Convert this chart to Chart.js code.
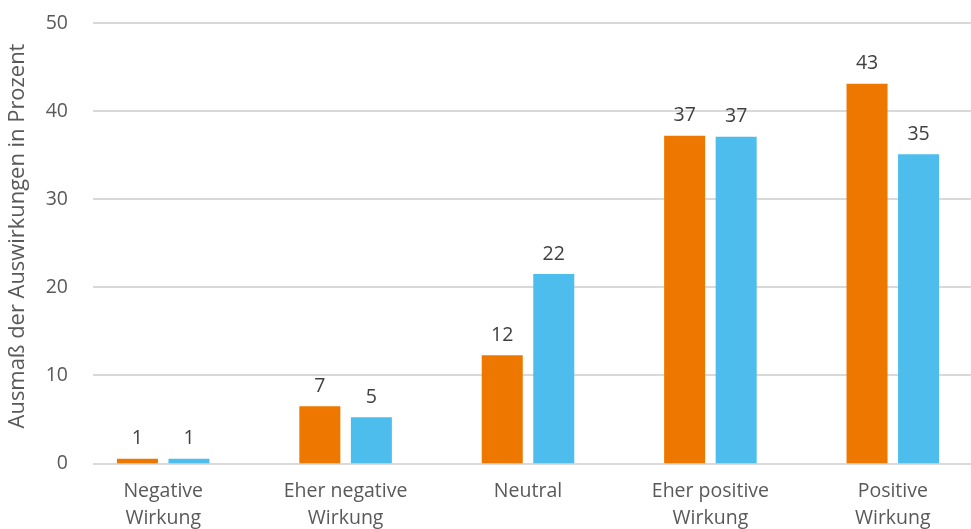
<!DOCTYPE html>
<html><head><meta charset="utf-8">
<script src="https://cdn.jsdelivr.net/npm/chart.js@4/dist/chart.umd.min.js"></script>
<style>html,body{margin:0;padding:0;background:#fff;overflow:hidden;width:971px;height:529px}
#wrap{position:relative;width:990px;height:529px}</style>
</head><body><div id="wrap"><canvas id="c" width="990" height="529"></canvas></div>
<script>
const categories = [["Negative","Wirkung"],["Eher negative","Wirkung"],["Neutral"],["Eher positive","Wirkung"],["Positive","Wirkung"]];
const seriesA = [0.55, 6.5, 12.3, 37.2, 43.1];
const seriesB = [0.55, 5.25, 21.5, 37.1, 35.1];
const yTicks = [0,10,20,30,40,50];
const yTitle = "Ausmaß der Auswirkungen in Prozent";
const FONT = "'Open Sans', sans-serif";
const FS = 19.5;

const gridPlugin = {
  id:'grid',
  beforeDatasetsDraw(chart){
    const ctx=chart.ctx, y=chart.scales.y;
    ctx.save();ctx.strokeStyle='#d9d9d9';ctx.lineWidth=2;
    yTicks.forEach(v=>{const p=Math.round(y.getPixelForValue(v));ctx.beginPath();ctx.moveTo(93,p);ctx.lineTo(chart.width,p);ctx.stroke();});
    ctx.restore();
  }
};
const labelPlugin = {
  id:'vlabels',
  afterDatasetsDraw(chart){
    const ctx=chart.ctx;ctx.save();ctx.fillStyle='#404040';ctx.font=FS+'px '+FONT;ctx.textAlign='center';ctx.textBaseline='alphabetic';
    chart.data.datasets.forEach((ds,i)=>{chart.getDatasetMeta(i).data.forEach((bar,j)=>{ctx.fillText(String(Math.round(ds.data[j])),bar.x,bar.y-14.5);});});
    ctx.restore();
  }
};
const titlePlugin = {
  id:'ytitle',
  afterDraw(chart){
    const ctx=chart.ctx;ctx.save();ctx.fillStyle='#595959';
    ctx.font='19px '+FONT;
    const w=ctx.measureText(yTitle).width;
    const fs=19*385/w;
    ctx.font=fs.toFixed(2)+'px '+FONT;
    ctx.textAlign='center';ctx.textBaseline='middle';
    ctx.translate(18,236);ctx.rotate(-Math.PI/2);ctx.fillText(yTitle,0,0);ctx.restore();
  }
};
new Chart(document.getElementById('c'),{
  type:'bar',
  data:{labels:categories,datasets:[
    {data:seriesA,backgroundColor:'#EE7700',barPercentage:0.796,categoryPercentage:0.565},
    {data:seriesB,backgroundColor:'#4DBDEE',barPercentage:0.796,categoryPercentage:0.565}
  ]},
  options:{responsive:false,animation:false,devicePixelRatio:1,
    layout:{padding:{top:23,right:6,left:0,bottom:0}},
    plugins:{legend:{display:false},tooltip:{enabled:false}},
    scales:{
      x:{grid:{display:false,drawTicks:false},border:{display:false},
         ticks:{color:'#595959',font:{family:FONT,size:FS,lineHeight:1.37},padding:15,maxRotation:0,autoSkip:false},
         afterFit(s){s.height=65.5;}},
      y:{min:0,max:50,grid:{display:false,drawTicks:false},border:{display:false},
         ticks:{stepSize:10,color:'#595959',font:{family:FONT,size:FS},padding:4},
         afterFit(s){s.width=72;}}
    }
  },
  plugins:[gridPlugin,labelPlugin,titlePlugin]
});
</script></body></html>
